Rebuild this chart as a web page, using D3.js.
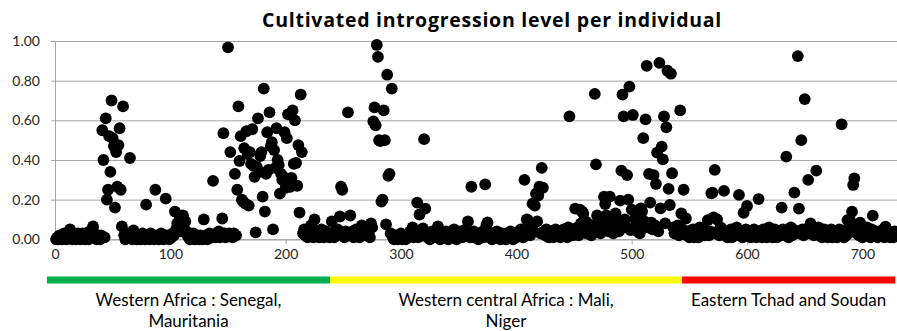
<!DOCTYPE html>
<html>
<head>
<meta charset="utf-8">
<script src="https://cdn.jsdelivr.net/npm/d3@7/dist/d3.min.js"></script>
<style>
  html, body { margin: 0; padding: 0; background: #fff; }
  svg { display: block; }
</style>
</head>
<body>
<svg id="chart" width="897" height="331"></svg>
<script>
// ---------------- DATA ----------------
const chartTitle = "Cultivated introgression level per individual";

// Individuals 1..238 (Western Africa : Senegal, Mauritania)
const westValues = [
  .00,.01,.00,.02,.01,.00,.01,.03,.01,.00,
  .02,.01,.05,.02,.00,.01,.02,.00,.01,.03,
  .01,.00,.02,.03,.01,.00,.02,.01,.00,.04,
  .02,.01,.065,.03,.01,.00,.02,.01,.00,.02,
  .55,.40,.01,.61,.20,.25,.52,.34,.70,.51,
  .47,.16,.44,.265,.475,.56,.25,.065,.67,.02,
  .00,.01,.03,.01,.41,.02,.00,.045,.01,.02,
  .00,.01,.02,.00,.01,.03,.01,.00,.175,.02,
  .01,.00,.03,.01,.02,.00,.25,.01,.02,.00,
  .01,.03,.02,.00,.01,.205,.02,.01,.00,.02,
  .01,.03,.02,.14,.05,.08,.06,.10,.04,.06,
  .12,.05,.09,.04,.02,.01,.00,.02,.01,.03,
  .00,.01,.02,.01,.00,.02,.01,.00,.10,.01,
  .02,.00,.01,.03,.02,.01,.295,.02,.01,.03,
  .02,.04,.01,.02,.105,.535,.03,.01,.02,.968,
  .03,.44,.02,.01,.03,.33,.02,.25,.67,.395,
  .52,.20,.19,.46,.18,.545,.43,.17,.44,.38,
  .555,.37,.315,.035,.365,.61,.34,.42,.44,.215,
  .76,.14,.33,.54,.35,.64,.47,.49,.05,.45,
  .36,.56,.40,.375,.23,.33,.30,.315,.54,.26,
  .51,.63,.29,.265,.31,.65,.38,.60,.385,.27,
  .475,.135,.73,.44,.03,.05,.02,.04,.01,.03,
  .02,.07,.04,.01,.10,.03,.02,.04,.01,.02,
  .05,.03,.01,.02,.04,.03,.02,.01
];

// Individuals 239..544 (Western central Africa : Mali, Niger)
const centralValues = [
  .02,.09,.03,.01,.04,.02,.05,.03,.115,.265,
  .25,.03,.01,.04,.02,.64,.03,.12,.02,.04,
  .01,.03,.05,.02,.04,.01,.03,.07,.02,.04,
  .03,.05,.02,.04,.01,.08,.06,.595,.665,.575,
  .98,.92,.50,.495,.19,.20,.65,.50,.075,.83,
  .32,.33,.03,.76,.01,.00,.02,.01,.00,.02,
  .01,.03,.00,.02,.01,.00,.02,.01,.03,.04,
  .02,.06,.01,.02,.03,.185,.01,.125,.02,.03,
  .055,.505,.155,.02,.01,.03,.00,.02,.04,.01,
  .02,.03,.01,.065,.02,.00,.01,.03,.02,.01,
  .04,.02,.00,.01,.03,.02,.01,.05,.02,.00,
  .01,.03,.02,.04,.01,.02,.03,.05,.02,.09,
  .03,.01,.265,.02,.04,.01,.03,.02,.00,.01,
  .03,.02,.04,.01,.277,.07,.085,.03,.02,.01,
  .00,.02,.03,.01,.04,.02,.01,.00,.02,.03,
  .01,.02,.00,.03,.01,.02,.04,.01,.00,.02,
  .03,.01,.02,.04,.03,.05,.02,.01,.30,.04,
  .10,.095,.03,.02,.05,.18,.04,.17,.23,.09,
  .22,.265,.03,.36,.26,.04,.02,.05,.03,.01,
  .02,.04,.03,.01,.02,.05,.03,.02,.04,.01,
  .03,.02,.05,.04,.02,.01,.06,.62,.03,.05,
  .02,.04,.155,.03,.06,.02,.15,.08,.14,.13,
  .05,.09,.03,.08,.04,.06,.02,.05,.07,.733,
  .378,.12,.04,.08,.03,.06,.05,.215,.178,.12,
  .07,.04,.215,.06,.08,.03,.11,.13,.05,.07,
  .04,.195,.346,.73,.62,.10,.06,.324,.20,.77,
  .047,.15,.627,.06,.105,.08,.04,.07,.03,.156,
  .14,.51,.09,.605,.875,.06,.33,.185,.084,.05,
  .324,.07,.279,.437,.04,.89,.156,.467,.403,.62,
  .08,.565,.85,.254,.173,.835,.333,.06,.03,.05,
  .04,.07,.02,.65,.13,.05
];

// Individuals 545..728 (Eastern Tchad and Soudan)
const eastValues = [
  .25,.03,.105,.02,.04,.01,.03,.02,.05,.01,
  .02,.04,.03,.01,.06,.02,.03,.05,.02,.04,
  .03,.097,.02,.04,.232,.235,.11,.35,.03,.10,
  .04,.02,.06,.03,.05,.244,.02,.04,.01,.03,
  .02,.05,.01,.03,.04,.02,.06,.03,.224,.02,
  .04,.01,.134,.03,.05,.168,.02,.04,.01,.03,
  .02,.05,.03,.01,.04,.203,.02,.03,.01,.05,
  .02,.04,.01,.03,.06,.02,.04,.01,.03,.05,
  .02,.01,.04,.03,.02,.16,.05,.03,.02,.417,
  .04,.01,.03,.06,.02,.05,.235,.03,.04,.924,
  .155,.03,.50,.05,.02,.707,.04,.03,.30,.06,
  .08,.03,.05,.02,.04,.346,.03,.06,.02,.04,
  .01,.03,.05,.02,.04,.01,.03,.02,.05,.01,
  .03,.02,.04,.01,.03,.05,.02,.58,.04,.01,
  .03,.02,.097,.05,.10,.04,.139,.274,.307,.06,
  .03,.04,.02,.084,.05,.01,.03,.02,.04,.06,
  .02,.03,.01,.05,.119,.02,.04,.03,.01,.02,
  .04,.03,.02,.05,.01,.064,.03,.02,.04,.01,
  .03,.02,.01,.04
];

const xDomain = [0, 730];
const yDomain = [0, 1];
const xTickValues = [0, 100, 200, 300, 400, 500, 600, 700];
const yTickValues = [0, 0.2, 0.4, 0.6, 0.8, 1.0];

// Region annotation (index ranges of individuals) and labels
const regionNames = [
  ["Western Africa : Senegal,", "Mauritania"],
  ["Western central Africa : Mali,", "Niger"],
  ["Eastern Tchad and Soudan"]
];
const regionStart = [-7, 238.5, 543.5];
const regionEnd   = [238.5, 543.5, 728.5];
const regionColors = ["#00b050", "#ffff00", "#ff0000"];

// ---------------- CHART ----------------
const allValues = westValues.concat(centralValues, eastValues);
const points = allValues.map((v, i) => ({ x: i + 1, y: v }));

const svg = d3.select("#chart");
const FONT = "Lato, 'Open Sans', 'DejaVu Sans', sans-serif";
const TITLE_FONT = "'Open Sans', 'Noto Sans', Lato, sans-serif";

const plot = { left: 55, right: 897, top: 41, bottom: 239.3 };

const x = d3.scaleLinear().domain(xDomain).range([plot.left, plot.right]);
const y = d3.scaleLinear().domain(yDomain).range([plot.bottom, plot.top]);

// Title (letter-spacing fitted to the reference width)
const title = svg.append("text")
  .attr("x", 492)
  .attr("y", 26.5)
  .attr("text-anchor", "middle")
  .style("font-family", TITLE_FONT)
  .style("font-weight", "bold")
  .style("font-size", "19.5px")
  .style("fill", "#000")
  .text(chartTitle);
{
  const len = title.node().getComputedTextLength();
  const ls = Math.max(0, (460 - len) / chartTitle.length);
  title.style("letter-spacing", ls + "px");
}

// Y axis with gridlines
const yAxis = d3.axisLeft(y)
  .tickValues(yTickValues)
  .tickFormat(d3.format(".2f"))
  .tickSize(-(plot.right - plot.left))
  .tickSizeOuter(0)
  .tickPadding(15);

const gy = svg.append("g")
  .attr("transform", `translate(${plot.left},0)`)
  .call(yAxis);
gy.select(".domain").attr("stroke", "#a6a6a6").attr("stroke-width", 1);
gy.selectAll(".tick line")
  .attr("stroke", "#a6a6a6")
  .attr("stroke-width", 1)
  .attr("x1", -4);
gy.selectAll(".tick text")
  .style("font-family", FONT)
  .style("font-size", "14px")
  .style("fill", "#262626");

// X axis
const xAxis = d3.axisBottom(x)
  .tickValues(xTickValues)
  .tickFormat(d3.format("d"))
  .tickSize(5)
  .tickSizeOuter(0)
  .tickPadding(5);

const gx = svg.append("g")
  .attr("transform", `translate(0,${plot.bottom})`)
  .call(xAxis);
gx.select(".domain").attr("stroke", "#a6a6a6").attr("stroke-width", 1);
gx.selectAll(".tick line").attr("stroke", "#a6a6a6");
gx.selectAll(".tick text")
  .style("font-family", FONT)
  .style("font-size", "14px")
  .style("fill", "#262626");

// Points
svg.append("g")
  .selectAll("circle")
  .data(points)
  .join("circle")
  .attr("cx", d => x(d.x))
  .attr("cy", d => y(d.y))
  .attr("r", 5.9)
  .attr("fill", "#000");

// Region bars
const regions = regionNames.map((n, i) => ({
  name: n, start: regionStart[i], end: regionEnd[i], color: regionColors[i]
}));

svg.append("g")
  .selectAll("rect")
  .data(regions)
  .join("rect")
  .attr("x", d => x(d.start))
  .attr("width", d => x(d.end) - x(d.start))
  .attr("y", 276.5)
  .attr("height", 7)
  .attr("fill", d => d.color);

const labels = svg.append("g")
  .selectAll("text")
  .data(regions)
  .join("text")
  .attr("text-anchor", "middle")
  .style("font-family", FONT)
  .style("font-size", "15.5px")
  .style("fill", "#000");

labels.each(function(d) {
  const t = d3.select(this);
  const cx = (x(d.start) + x(d.end)) / 2;
  d.name.forEach((line, j) => {
    t.append("tspan")
      .attr("x", cx)
      .attr("y", 306 + j * 20.5)
      .text(line);
  });
});
// fit label size to the reference width of the first label line
{
  const first = labels.filter((d, i) => i === 0).select("tspan").node();
  const w = first.getComputedTextLength();
  const size = Math.min(17, 15.5 * 186 / w);
  labels.style("font-size", size + "px");
}
</script>
</body>
</html>
